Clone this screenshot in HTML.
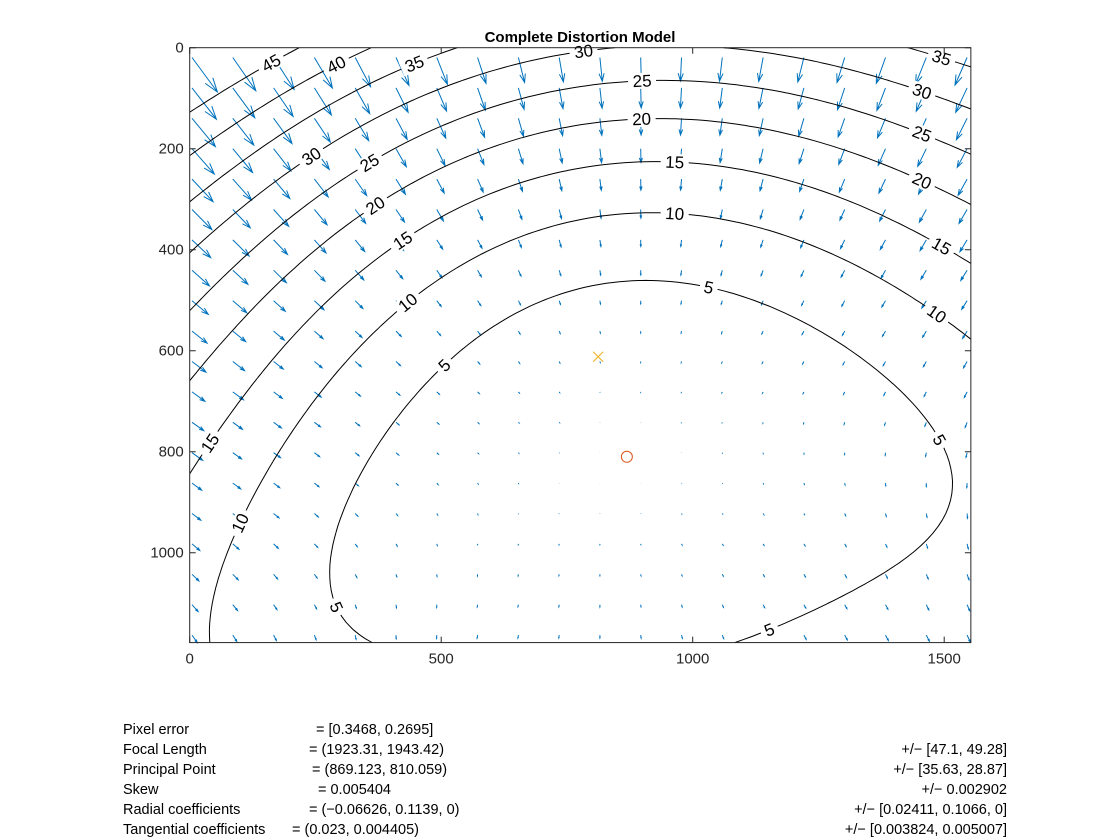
<!DOCTYPE html>
<html><head><meta charset="utf-8"><style>
body{margin:0;background:#fff;width:1120px;height:840px;overflow:hidden;font-family:"Liberation Sans",sans-serif}
.t{position:absolute;font-size:14.5px;color:#000;white-space:pre;line-height:16px}
.r{text-align:right}
</style></head><body>
<svg id="chart" width="1120" height="700" style="position:absolute;left:0;top:0" xmlns="http://www.w3.org/2000/svg">
<text x="580" y="42" text-anchor="middle" font-family="Liberation Sans, sans-serif" font-weight="bold" font-size="15">Complete Distortion Model</text>
<g id="quiver"></g>
<g id="contours"></g>
<g id="labels"></g>
<g id="marks"></g>
<g id="axes"></g>
</svg>
<div>
<div class="t" style="left:123px;top:722px">Pixel error</div><div class="t" style="left:316px;top:722px">= [0.3468, 0.2695]</div>
<div class="t" style="left:123px;top:742px">Focal Length</div><div class="t" style="left:309px;top:742px">= (1923.31, 1943.42)</div>
<div class="t" style="left:123px;top:762px">Principal Point</div><div class="t" style="left:312px;top:762px">= (869.123, 810.059)</div>
<div class="t" style="left:123px;top:782px">Skew</div><div class="t" style="left:318px;top:782px">= 0.005404</div>
<div class="t" style="left:123px;top:802px">Radial coefficients</div><div class="t" style="left:309px;top:802px">= (−0.06626, 0.1139, 0)</div>
<div class="t" style="left:123px;top:822px">Tangential coefficients</div><div class="t" style="left:292px;top:822px">= (0.023, 0.004405)</div>
<div class="t r" style="right:113px;top:742px">+/− [47.1, 49.28]</div>
<div class="t r" style="right:113px;top:762px">+/− [35.63, 28.87]</div>
<div class="t r" style="right:113px;top:782px">+/− 0.002902</div>
<div class="t r" style="right:113px;top:802px">+/− [0.02411, 0.1066, 0]</div>
<div class="t r" style="right:113px;top:822px">+/− [0.003824, 0.005007]</div>
</div>
<script>
const focal=[1923.31,1943.42];
const principal=[869.123,810.059];
const skew=0.005404;
const radial=[-0.06626,0.1139,0];
const tangential=[0.023,0.004405];
const levels=[5,10,15,20,25,30,35,40,45];
const xTicks=[0,500,1000,1500];
const yTicks=[0,200,400,600,800,1000];
const imageCenter=[812,612];
const labelLevels=[45,40,35,30,25,20,15,10,5,35,30,25,20,15,10,5,5,5,10,15,5,10,15,20,25,30];
const labelAt=[[270,65],[335,67],[412,66],[581,53],[641,85],[641,121],[672,163],[672,216],[709,290],[940,60],[922,96],[920,135],[918,183],[942,248],[937,318],[937,442],[770,628],[338,606],[240,523],[209,444],[446,366],[408,301],[400,239],[374,207],[371,163],[311,156]];
const XMAX=1553,YMAX=1178;
const L=189.7,T=47.7,SX=0.503,SY=0.505;
const R=L+XMAX*SX,B=T+YMAX*SY;
const px=x=>L+x*SX, py=y=>T+y*SY;
const NS='http://www.w3.org/2000/svg';
function mk(tag,at,parent){const e=document.createElementNS(NS,tag);for(const k in at)e.setAttribute(k,at[k]);parent.appendChild(e);return e;}
function disp(X,Y){
  const x=(X-principal[0])/focal[0], y0=(Y-principal[1])/focal[1];
  const x0=x-skew*y0;const y=y0;
  const r2=x0*x0+y*y;
  const rad=radial[0]*r2+radial[1]*r2*r2+radial[2]*r2*r2*r2;
  const dx=x0*rad+2*tangential[0]*x0*y+tangential[1]*(r2+2*x0*x0);
  const dy=y*rad+tangential[0]*(r2+2*y*y)+2*tangential[1]*x0*y;
  return [focal[0]*(dx+skew*dy),focal[1]*dy];
}
// quiver
const Q=document.getElementById('quiver');
let qd='';
for(let i=0;i<20;i++)for(let j=0;j<20;j++){
  const X=4.6+81.1*i,Y=19.4+60.2*j;
  const d=disp(X,Y);
  const x1=px(X),y1=py(Y);
  const u=d[0]*SX*1.65,v=d[1]*SY*1.65;
  const x2=x1+u,y2=y1+v;
  qd+=`M${x1.toFixed(1)} ${y1.toFixed(1)}L${x2.toFixed(1)} ${y2.toFixed(1)}`;
  const a=0.33,b=0.33;
  qd+=`M${(x2-a*(u+b*v)).toFixed(1)} ${(y2-a*(v-b*u)).toFixed(1)}L${x2.toFixed(1)} ${y2.toFixed(1)}L${(x2-a*(u-b*v)).toFixed(1)} ${(y2-a*(v+b*u)).toFixed(1)}`;
}
const qp=mk('path',{d:qd,stroke:'#0072BD','stroke-width':1,fill:'none'},Q);


// contours
const NX=120,NY=92;
const G=[];
for(let j=0;j<=NY;j++){G.push([]);for(let i=0;i<=NX;i++){const d=disp(i*XMAX/NX,j*YMAX/NY);G[j].push(Math.hypot(d[0],d[1]));}}
const segs={};
const C=document.getElementById('contours');
levels.forEach(lv=>{
  const S=[];
  for(let j=0;j<NY;j++)for(let i=0;i<NX;i++){
    const v=[G[j][i],G[j][i+1],G[j+1][i+1],G[j+1][i]];
    const c=[[i,j],[i+1,j],[i+1,j+1],[i,j+1]];
    const pts=[];
    for(let e=0;e<4;e++){const a=v[e],b=v[(e+1)%4];
      if((a<lv)!==(b<lv)){const t=(lv-a)/(b-a);const p=c[e],q=c[(e+1)%4];
        pts.push([px((p[0]+t*(q[0]-p[0]))*XMAX/NX),py((p[1]+t*(q[1]-p[1]))*YMAX/NY)]);}}
    if(pts.length>=2)S.push([pts[0],pts[1]]);
    if(pts.length===4)S.push([pts[2],pts[3]]);
  }
  segs[lv]=S;
  const p=mk('path',{d:S.map(s=>`M${s[0][0].toFixed(1)} ${s[0][1].toFixed(1)}L${s[1][0].toFixed(1)} ${s[1][1].toFixed(1)}`).join(''),stroke:'#000','stroke-width':1,fill:'none'},C);
  
  
});
// labels
const LB=document.getElementById('labels');
labelLevels.forEach((lv,k)=>{
  const [lx,ly]=labelAt[k];let best=null,bd=1e9;
  (segs[lv]||[]).forEach(s=>{const mx=(s[0][0]+s[1][0])/2,my=(s[0][1]+s[1][1])/2;const dd=(mx-lx)**2+(my-ly)**2;if(dd<bd){bd=dd;best=s;}});
  let cx=lx,cy=ly,ang=0;
  if(best&&bd<900){cx=(best[0][0]+best[1][0])/2;cy=(best[0][1]+best[1][1])/2;
    ang=Math.atan2(best[1][1]-best[0][1],best[1][0]-best[0][0])*180/Math.PI;
    if(ang>90)ang-=180;if(ang<=-90)ang+=180;}
  const g=mk('g',{transform:`translate(${cx.toFixed(1)},${cy.toFixed(1)}) rotate(${ang.toFixed(1)})`},LB);
  
  
  const w=lv<10?14:24;
  mk('rect',{x:-w/2-2,y:-8,width:w+4,height:16,fill:'#fff'},g);
  const t=mk('text',{x:0,y:6,'text-anchor':'middle','font-size':17,'font-family':'Liberation Sans, sans-serif',fill:'#000'},g);
  t.textContent=lv;
});
// markers
const M=document.getElementById('marks');
const cxm=px(imageCenter[0]),cym=py(imageCenter[1]);
const xm=mk('path',{d:`M${cxm-5} ${cym-5}L${cxm+5} ${cym+5}M${cxm-5} ${cym+5}L${cxm+5} ${cym-5}`,stroke:'#EDB120','stroke-width':1,fill:'none'},M);


const om=mk('circle',{cx:px(principal[0]),cy:py(principal[1]),r:5.5,stroke:'#D95319','stroke-width':1,fill:'none'},M);


// axes
const A=document.getElementById('axes');
mk('rect',{x:L,y:T,width:R-L,height:B-T,fill:'none',stroke:'#262626','stroke-width':1},A);
xTicks.forEach(v=>{const x=px(v);
  mk('path',{d:`M${x} ${B}L${x} ${B-6}M${x} ${T}L${x} ${T+6}`,stroke:'#262626'},A);
  const t=mk('text',{x:x,y:B+21,'text-anchor':'middle','font-size':15,'font-family':'Liberation Sans, sans-serif',fill:'#262626'},A);
  
  
  t.textContent=v;});
yTicks.forEach(v=>{const y=py(v);
  mk('path',{d:`M${L} ${y}L${L+6} ${y}M${R} ${y}L${R-6} ${y}`,stroke:'#262626'},A);
  const t=mk('text',{x:L-6,y:y+5,'text-anchor':'end','font-size':15,'font-family':'Liberation Sans, sans-serif',fill:'#262626'},A);
  
  
  t.textContent=v;});
</script>
</body></html>
